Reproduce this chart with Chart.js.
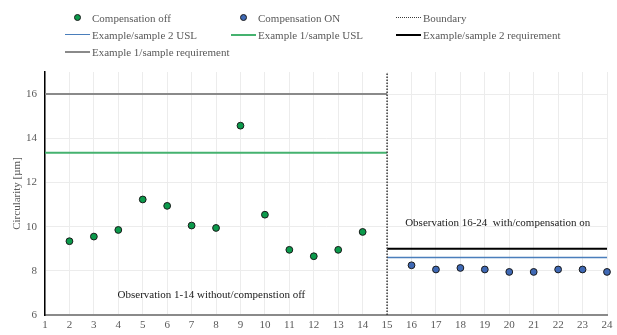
<!DOCTYPE html>
<html>
<head>
<meta charset="utf-8">
<script src="https://cdn.jsdelivr.net/npm/chart.js@4.4.1/dist/chart.umd.min.js"></script>
<style>
  html, body { margin: 0; padding: 0; background: #ffffff; }
  #wrap { position: relative; width: 617px; height: 335px; }
  #chart { position: absolute; left: 0; top: 0; }
  #legend { position: absolute; left: 65px; top: 9px; display: grid;
            grid-template-columns: 166px 165px 190px; grid-auto-rows: 17px;
            font-family: 'Liberation Serif', 'Times New Roman', serif; font-size: 11px; color: #595959; }
  .item { display: flex; align-items: center; white-space: nowrap; }
  .mark { width: 25px; height: 17px; position: relative; margin-right: 2px; flex: none; }
  .mark .dot { position: absolute; left: 9px; top: 5px; width: 5px; height: 5px; border-radius: 50%;
               border: 1px solid #1a1a1a; }
  .mark .ln { position: absolute; left: 0; right: 0; top: 8px; }
</style>
</head>
<body>
<div id="wrap">
  <canvas id="chart" width="617" height="335"></canvas>
  <div id="legend"></div>
</div>
<script>
// Observation numbers and measured circularity (µm)
const offObs    = [2, 3, 4, 5, 6, 7, 8, 9, 10, 11, 12, 13, 14];
const offValues = [9.34, 9.55, 9.85, 11.23, 10.94, 10.05, 9.94, 14.57, 10.54, 8.95, 8.66, 8.95, 9.76];
const onObs     = [16, 17, 18, 19, 20, 21, 22, 23, 24];
const onValues  = [8.25, 8.06, 8.13, 8.06, 7.95, 7.95, 8.06, 8.06, 7.95];

// Limits
const boundaryObs   = 15;
const sample1Range  = [1, 15];
const sample2Range  = [15, 24];
const sample1USL    = 13.35;
const sample1Req    = 16;
const sample2USL    = 8.6;
const sample2Req    = 9.0;

// Axes
const xTicks = [1, 2, 3, 4, 5, 6, 7, 8, 9, 10, 11, 12, 13, 14, 15, 16, 17, 18, 19, 20, 21, 22, 23, 24];
const yTicks = [6, 8, 10, 12, 14, 16];
const yRange = [6, 17];

const notes = ['Observation 1-14 without/compenstion off', 'Observation 16-24  with/compensation on'];

const toPts = (xs, ys) => xs.map((x, i) => ({ x: x, y: ys[i] }));
const hLine = (range, y) => range.map(x => ({ x: x, y: y }));

const FONT = "'Liberation Serif', 'Times New Roman', serif";
const TEXT = '#595959';

const datasets = [
  { label: 'Compensation off', data: toPts(offObs, offValues), backgroundColor: '#0b9a4b',
    borderColor: '#1a1a1a', borderWidth: 1, pointRadius: 3.4, showLine: false, order: 0, clip: false, kind: 'dot' },
  { label: 'Compensation ON', data: toPts(onObs, onValues), backgroundColor: '#3f69b5',
    borderColor: '#1a1a1a', borderWidth: 1, pointRadius: 3.4, showLine: false, order: 0, clip: false, kind: 'dot' },
  { label: 'Boundary', data: [{ x: boundaryObs, y: yRange[0] }, { x: boundaryObs, y: yRange[1] }],
    borderColor: '#3a3a3a', borderWidth: 1.5, borderDash: [1.5, 1.5], showLine: true, pointRadius: 0, order: 1, kind: 'dotted' },
  { label: 'Example/sample 2 USL', data: hLine(sample2Range, sample2USL), borderColor: '#4a7ebb',
    borderWidth: 1.5, showLine: true, pointRadius: 0, order: 1, kind: 'line' },
  { label: 'Example 1/sample USL', data: hLine(sample1Range, sample1USL), borderColor: '#45b26f',
    borderWidth: 2, showLine: true, pointRadius: 0, order: 1, kind: 'line' },
  { label: 'Example/sample 2 requirement', data: hLine(sample2Range, sample2Req), borderColor: '#000000',
    borderWidth: 2, showLine: true, pointRadius: 0, order: 1, kind: 'line' },
  { label: 'Example 1/sample requirement', data: hLine(sample1Range, sample1Req), borderColor: '#8a8a8a',
    borderWidth: 2, showLine: true, pointRadius: 0, order: 1, kind: 'line' }
];

// Text notes placed inside the plot area
const notesPlugin = {
  id: 'notes',
  afterDatasetsDraw(chart) {
    const { ctx, scales: { x, y } } = chart;
    ctx.save();
    ctx.font = '11px ' + FONT;
    ctx.fillStyle = '#1a1a1a';
    ctx.textBaseline = 'middle';
    ctx.textAlign = 'left';
    ctx.fillText(notes[0], x.getPixelForValue(3.97), y.getPixelForValue(6.88));
    ctx.fillText(notes[1], x.getPixelForValue(15.74), y.getPixelForValue(10.18));
    ctx.restore();
  }
};

const chart = new Chart(document.getElementById('chart'), {
  type: 'scatter',
  data: { datasets: datasets },
  options: {
    responsive: false,
    animation: false,
    layout: { padding: { top: 72, right: 10, bottom: 0, left: 0 } },
    plugins: { legend: { display: false }, tooltip: { enabled: false } },
    scales: {
      x: {
        type: 'linear', min: xTicks[0], max: xTicks[xTicks.length - 1],
        afterBuildTicks: s => { s.ticks = xTicks.map(v => ({ value: v })); },
        afterFit: s => { s.height = 20; },
        grid: { color: '#ececec', lineWidth: 1, drawTicks: false },
        border: { color: '#8a8a8a', width: 2 },
        ticks: { color: TEXT, font: { family: FONT, size: 11 }, padding: 4, maxRotation: 0, autoSkip: false }
      },
      y: {
        type: 'linear', min: yRange[0], max: yRange[1],
        afterBuildTicks: s => { s.ticks = yTicks.map(v => ({ value: v })); },
        afterFit: s => { s.width = 45; },
        grid: { color: '#ececec', lineWidth: 1, drawTicks: false },
        border: { color: '#000000', width: 1.5 },
        ticks: { color: TEXT, font: { family: FONT, size: 11 }, padding: 8 },
        title: { display: true, text: 'Circularity [µm]', color: TEXT, font: { family: FONT, size: 11 },
                 padding: { top: 11, bottom: 0 } }
      }
    }
  },
  plugins: [notesPlugin]
});

// Legend built from the chart's datasets
const legend = document.getElementById('legend');
chart.data.datasets.forEach(ds => {
  const item = document.createElement('div');
  item.className = 'item';
  const mark = document.createElement('span');
  mark.className = 'mark';
  const m = document.createElement('span');
  if (ds.kind === 'dot') {
    m.className = 'dot';
    m.style.background = ds.backgroundColor;
  } else {
    m.className = 'ln';
    if (ds.kind === 'dotted') {
      m.style.borderTop = '1.5px dotted ' + ds.borderColor;
    } else {
      m.style.borderTop = ds.borderWidth + 'px solid ' + ds.borderColor;
    }
  }
  mark.appendChild(m);
  const txt = document.createElement('span');
  txt.textContent = ds.label;
  item.appendChild(mark);
  item.appendChild(txt);
  legend.appendChild(item);
});
</script>
</body>
</html>
